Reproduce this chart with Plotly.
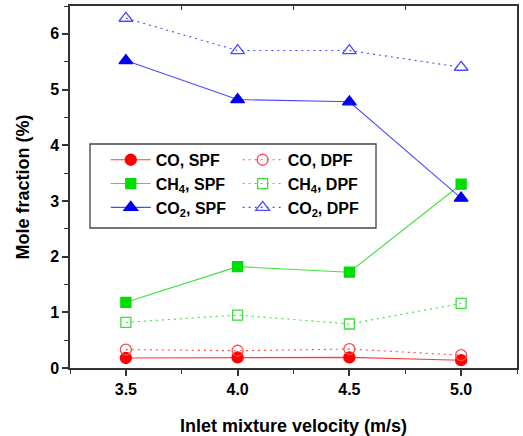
import plotly.graph_objects as go

velocity = [3.5, 4.0, 4.5, 5.0]
co_spf = [0.18, 0.19, 0.19, 0.14]
co_dpf = [0.33, 0.31, 0.34, 0.23]
ch4_spf = [1.18, 1.82, 1.72, 3.30]
ch4_dpf = [0.82, 0.95, 0.79, 1.16]
co2_spf = [5.52, 4.82, 4.78, 3.05]
co2_dpf = [6.28, 5.70, 5.70, 5.40]

x_ticks = [3.5, 4.0, 4.5, 5.0]
y_ticks = [0, 1, 2, 3, 4, 5, 6]

FONT = "Liberation Sans, Arial, sans-serif"

fig = go.Figure()

def add(name, y, mcolor, lcolor, symbol, dash, legend, filled=True, size=11):
    fig.add_trace(go.Scatter(
        x=velocity, y=y, name=name, mode="lines+markers",
        line=dict(color=lcolor, width=1.1, dash=dash),
        marker=dict(symbol=symbol if filled else symbol + "-open", size=size,
                    color=mcolor, line=dict(color=mcolor, width=1.3)),
        legend=legend))

DOT = "2px,4px"
add("CO, SPF", co_spf, "#ff0000", "#ff3b3b", "circle", "solid", "legend")
add("CH<sub>4</sub>, SPF", ch4_spf, "#00dd00", "#3fe03f", "square", "solid", "legend", size=10)
add("CO<sub>2</sub>, SPF", co2_spf, "#0000f0", "#4a4aff", "triangle-up", "solid", "legend", size=12)
add("CO, DPF", co_dpf, "#ff4848", "#ff4848", "circle", DOT, "legend2", filled=False)
add("CH<sub>4</sub>, DPF", ch4_dpf, "#3ddd3d", "#3ddd3d", "square", DOT, "legend2", filled=False, size=10)
add("CO<sub>2</sub>, DPF", co2_dpf, "#4c4cff", "#4c4cff", "triangle-up", DOT, "legend2", filled=False, size=12)

# invisible trace to show top axis ticks
fig.add_trace(go.Scatter(x=[3.75], y=[0], xaxis="x2", mode="markers",
                         marker=dict(opacity=0), showlegend=False, hoverinfo="skip"))

axis_color = "#333333"
legend_common = dict(bgcolor="rgba(0,0,0,0)", borderwidth=0,
                     font=dict(family=FONT, size=16, color="black", weight="bold"),
                     xanchor="left", yanchor="top", tracegroupgap=0,
                     itemwidth=40)

fig.update_layout(
    width=523, height=436,
    margin=dict(l=70, r=6, t=6, b=68),
    paper_bgcolor="white", plot_bgcolor="white",
    font=dict(family=FONT, color="black"),
    xaxis=dict(range=[3.25, 5.25], tickvals=x_ticks, ticktext=["3.5", "4.0", "4.5", "5.0"],
               ticks="outside", ticklen=6, tickwidth=1.5, tickcolor=axis_color,
               minor=dict(dtick=0.25, tick0=3.25, ticks="outside", ticklen=4, tickcolor=axis_color, tickwidth=1.2),
               showline=True, linecolor=axis_color, linewidth=1.5, mirror=True,
               showgrid=False, zeroline=False, automargin=False,
               tickfont=dict(family=FONT, size=16, color="black", weight="bold"),
               title=dict(text="<b>Inlet mixture velocity (m/s)</b>",
                          font=dict(family=FONT, size=18, color="black"), standoff=22)),
    xaxis2=dict(range=[3.25, 5.25], overlaying="x", side="top", anchor="y",
                tickvals=[3.75, 4.25, 4.75], ticks="inside", ticklen=4, tickwidth=1.2,
                tickcolor=axis_color, showticklabels=False, showgrid=False,
                zeroline=False, showline=False, automargin=False),
    yaxis=dict(range=[0, 6.5], tickvals=y_ticks,
               ticks="outside", ticklen=6, tickwidth=1.5, tickcolor=axis_color,
               minor=dict(dtick=0.5, ticks="outside", ticklen=4, tickcolor=axis_color, tickwidth=1.2),
               showline=True, linecolor=axis_color, linewidth=1.5, mirror=True,
               showgrid=False, zeroline=False, automargin=False,
               tickfont=dict(family=FONT, size=16, color="black", weight="bold"),
               title=dict(text="<b>Mole fraction (%)</b>",
                          font=dict(family=FONT, size=18, color="black"), standoff=16)),
    legend=dict(x=0.08, y=0.622, **legend_common),
    legend2=dict(x=0.375, y=0.622, **legend_common),
    showlegend=True,
    shapes=[dict(type="rect", xref="paper", yref="paper",
                 x0=(90 - 70) / 447, x1=(376 - 70) / 447,
                 y0=(368 - 228) / 362, y1=(368 - 144) / 362,
                 line=dict(color="#444444", width=1.3), fillcolor="rgba(0,0,0,0)")],
)

fig.write_html("out.html")
